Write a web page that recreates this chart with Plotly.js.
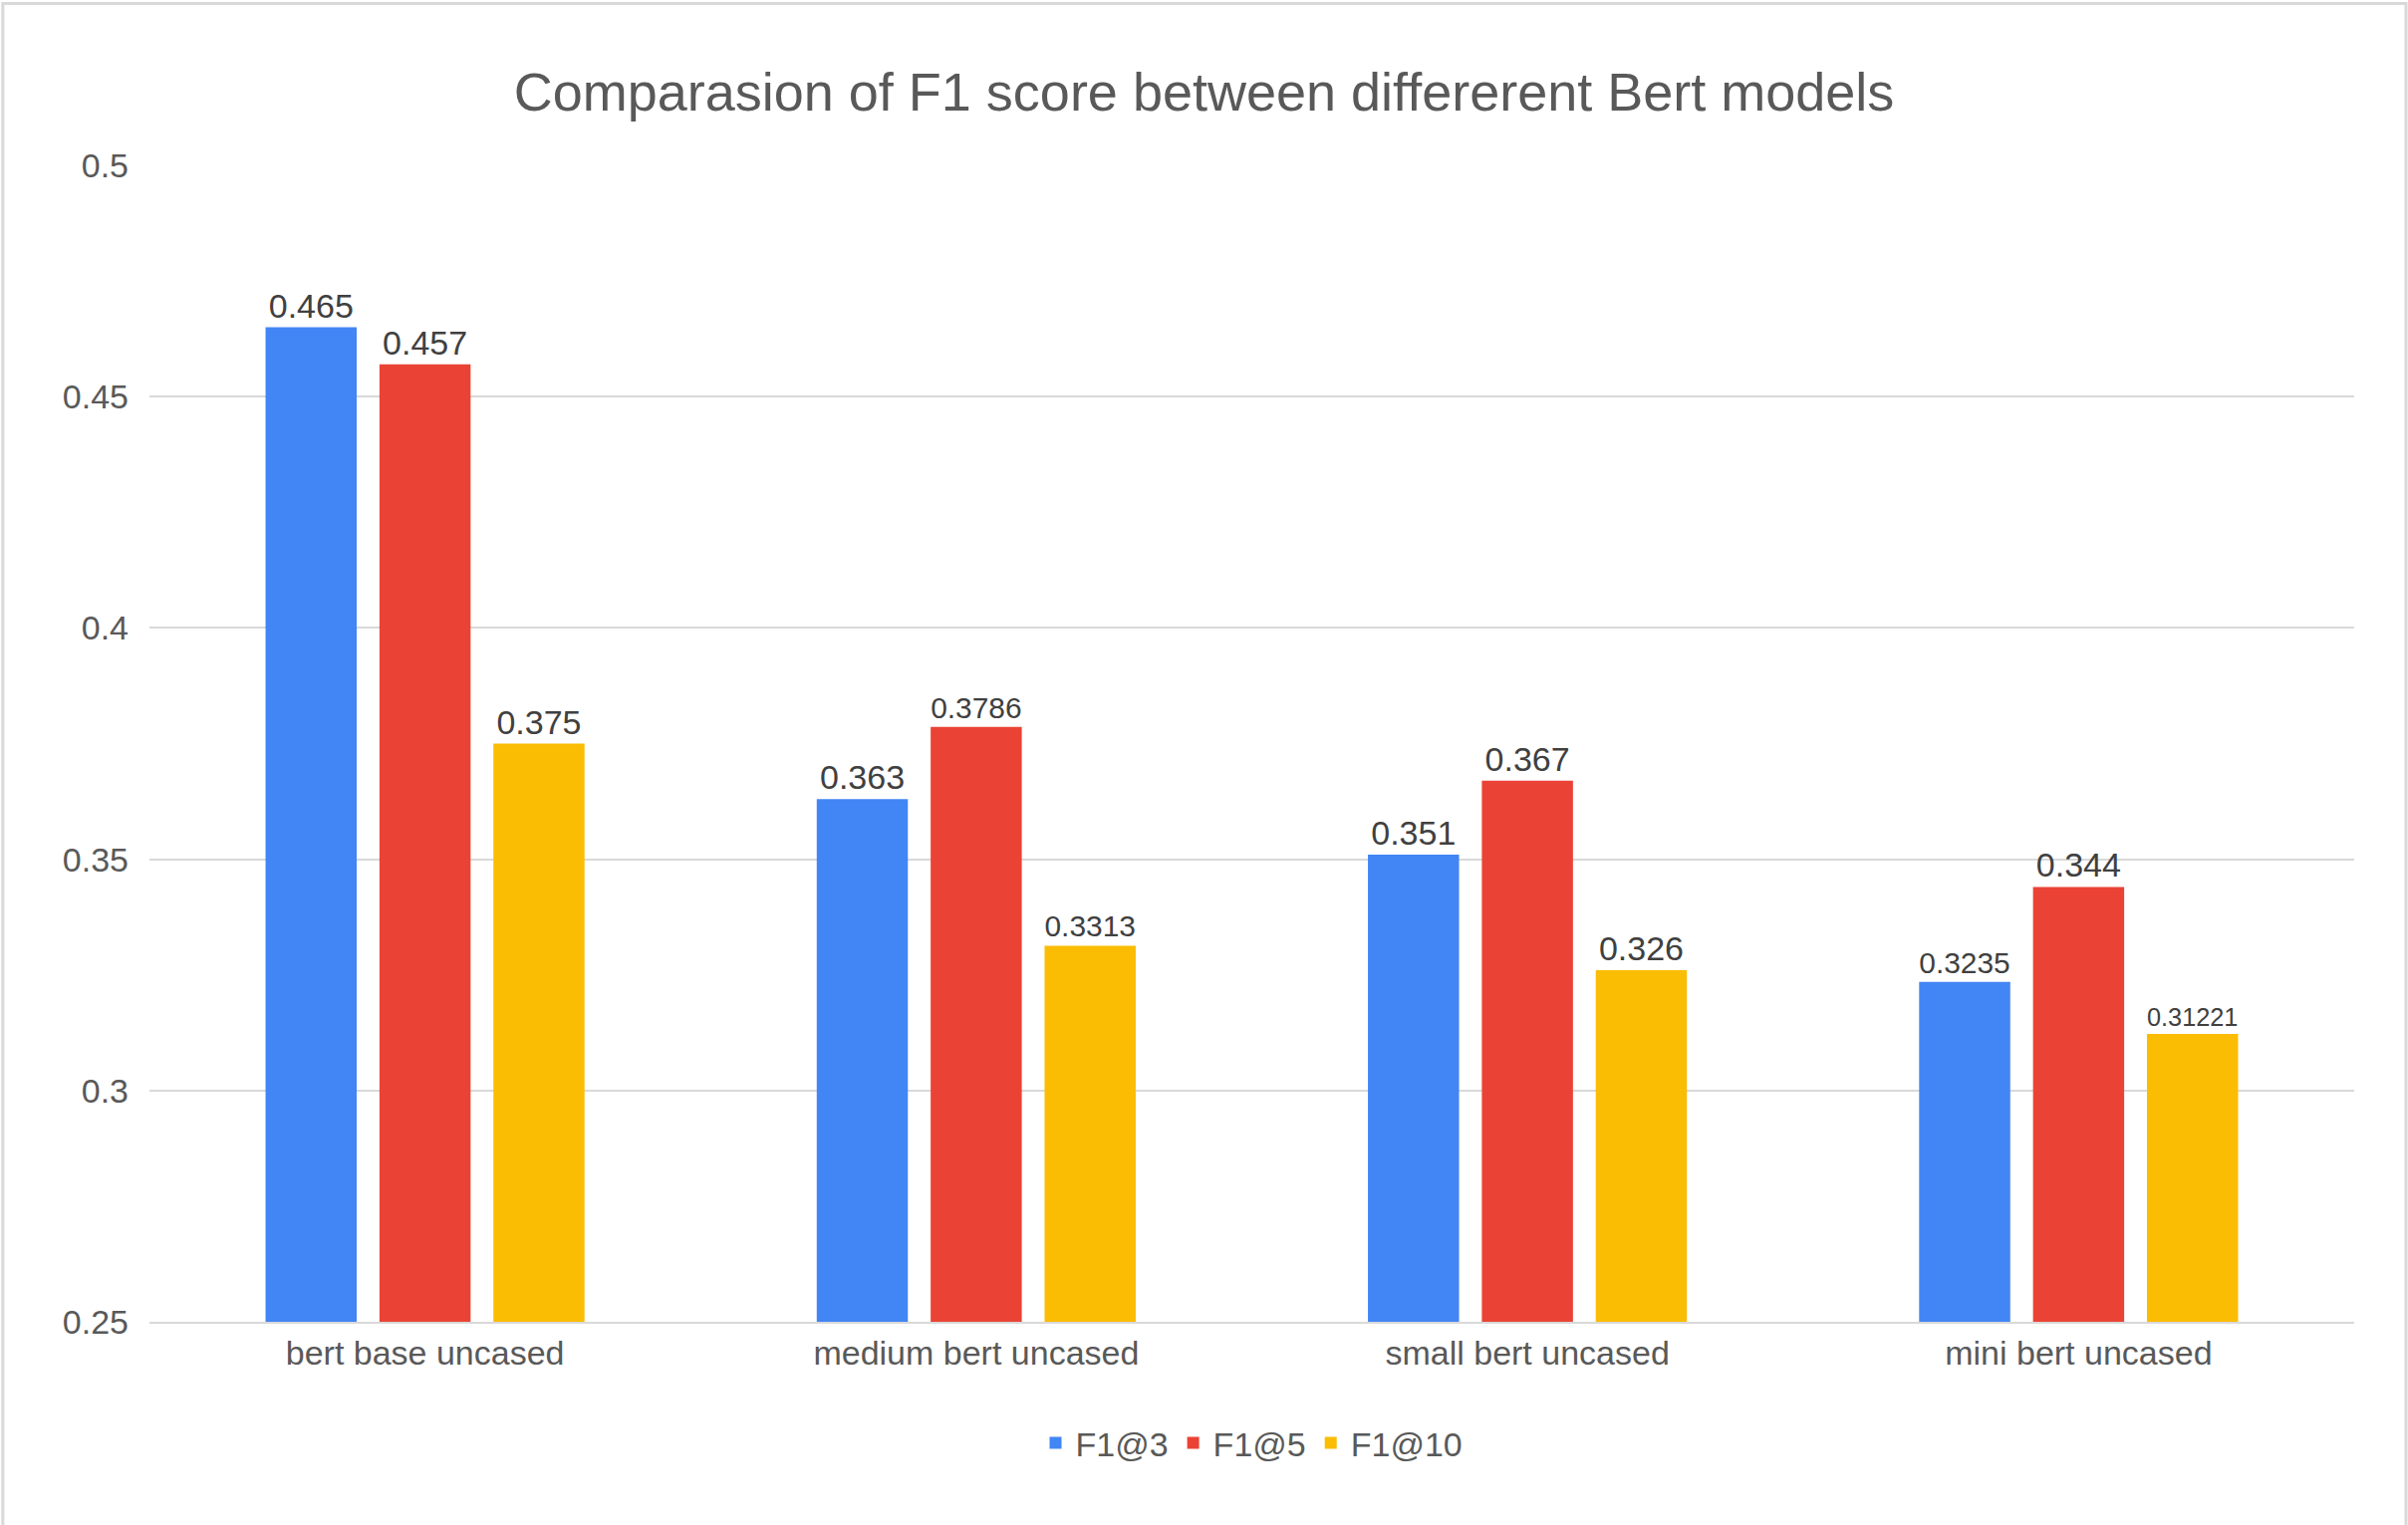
<!DOCTYPE html>
<html>
<head>
<script src="https://cdn.plot.ly/plotly-3.0.1.min.js"></script>
<style>body{margin:0;background:#fff}</style>
</head>
<body>
<div id="chart" style="width:2417px;height:1531px"></div>
<script>
var models = ['bert base uncased', 'medium bert uncased', 'small bert uncased', 'mini bert uncased'];
var f1at3 = [0.465, 0.363, 0.351, 0.3235];
var f1at5 = [0.457, 0.3786, 0.367, 0.344];
var f1at10 = [0.375, 0.3313, 0.326, 0.31221];

function series(name, y, color) {
  return {
    type: 'bar', name: name, x: models, y: y,
    marker: {color: color},
    text: y.map(String), textposition: 'outside', cliponaxis: false,
    textfont: {size: 34, color: '#404040'}
  };
}

var data = [
  series('F1@3', f1at3, '#4285F4'),
  series('F1@5', f1at5, '#EA4335'),
  series('F1@10', f1at10, '#FBBC04')
];

var layout = {
  font: {family: 'Liberation Sans, Arial, sans-serif', color: '#595959', size: 34},
  title: {text: 'Comparasion of F1 score between differerent Bert models', font: {size: 54, color: '#595959'}, x: 0.5, y: 0.952},
  margin: {l: 150, r: 54, t: 166, b: 204},
  bargap: 0.38, bargroupgap: 0.2,
  xaxis: {tickfont: {size: 34, color: '#595959'}, showline: true, linecolor: '#d9d9d9', linewidth: 2},
  yaxis: {range: [0.25, 0.5], dtick: 0.05, gridcolor: '#d9d9d9', gridwidth: 2, zeroline: false, tickfont: {size: 34, color: '#595959'}, ticklen: 0, ticks: '', ticklabelstandoff: 20},
  legend: {orientation: 'h', x: 0.5, xanchor: 'center', y: -0.105, yanchor: 'middle', font: {size: 34, color: '#595959'}},
  shapes: [{type: 'rect', xref: 'paper', yref: 'paper', x0: -0.0665, x1: 1.0235, y0: -0.18, y1: 1.14, line: {color: '#d9d9d9', width: 3}}],
  paper_bgcolor: '#fff', plot_bgcolor: '#fff'
};

Plotly.newPlot('chart', data, layout, {displayModeBar: false});
</script>
</body>
</html>
